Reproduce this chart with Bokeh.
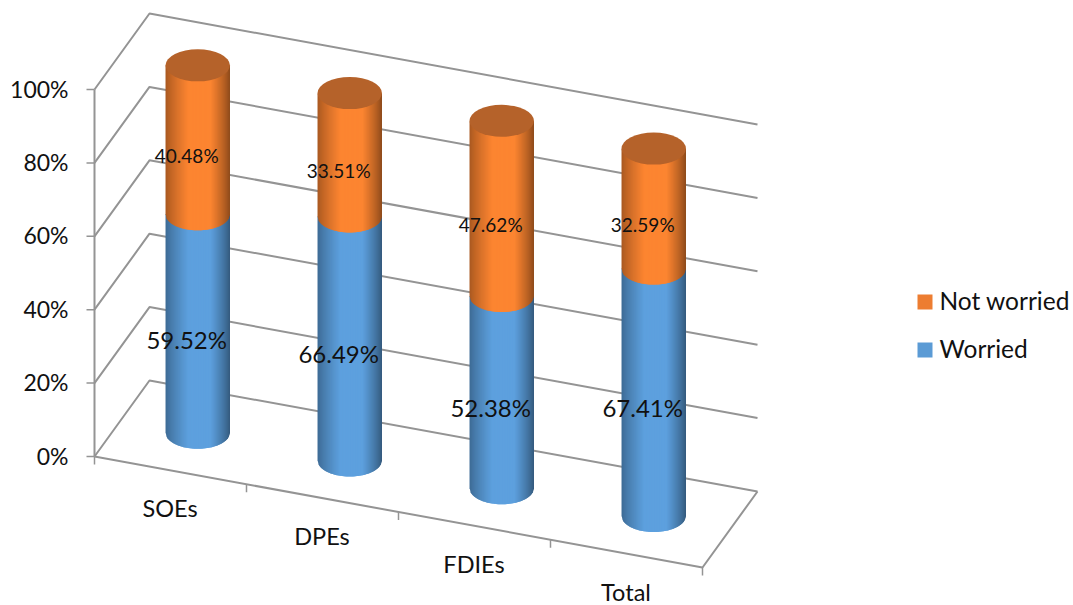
import math
from bokeh.plotting import figure
from bokeh.models import Range1d
from bokeh.core.properties import value
from bokeh.embed import file_html
from bokeh.resources import INLINE

# Chart data
categories = ["SOEs", "DPEs", "FDIEs", "Total"]
worried = [59.52, 66.49, 52.38, 67.41]
not_worried = [40.48, 33.51, 47.62, 32.59]
percent_ticks = [0, 20, 40, 60, 80, 100]
legend_names = ["Not worried", "Worried"]

# Oblique projection of the 3D box onto the page
ORIGIN = (94.0, 456.0)      # front-left floor corner at 0%
SLOT = (152.0, 27.75)       # one category along the front edge
DEPTH = (55.0, -76.0)       # front-to-back offset of the box
PX_PER_PERCENT = 3.67
COL_RX, COL_RY = 32.2, 16.0
COL_DEPTH = 0.495           # columns stand just in front of the floor's centre line
FONT = value("Lato")
GRID = "#949494"
INK = "#111111"


def project(slot, pct, depth=0.0):
    """Box coordinates (category slot, percent, depth 0..1) to page position."""
    x = ORIGIN[0] + slot * SLOT[0] + depth * DEPTH[0]
    y = ORIGIN[1] + slot * SLOT[1] + depth * DEPTH[1] - pct * PX_PER_PERCENT
    return x, y


def shade(rgb, u):
    """Horizontal cylinder lighting, u runs from -1 (left) to 1 (right)."""
    if u < 0:
        k = 0.66 + 0.34 * min(1.0, (u + 1) / 0.7) ** 0.8
    else:
        k = 0.55 + 0.45 * min(1.0, (1 - u) / 0.6) ** 0.8
    return "#%02x%02x%02x" % tuple(int(c * k) for c in rgb)


p = figure(width=1073, height=605, x_range=Range1d(0, 1073), y_range=Range1d(605, 0),
           output_backend="svg", toolbar_location=None, min_border=0,
           outline_line_color=None, background_fill_color="white")
p.axis.visible = False
p.grid.visible = False

n = len(categories)

# Back wall, side wall and value ticks
for pct in percent_ticks:
    x0, y0 = project(0, pct)
    x1, y1 = project(0, pct, 1)
    x2, y2 = project(n, pct, 1)
    p.line([x0, x1, x2], [y0, y1, y2], line_color=GRID, line_width=2)
    p.line([x0 - 8, x0], [y0, y0], line_color=GRID, line_width=1.5)
    p.text([x0 - 26], [y0 - 1], text=[f"{pct}%"], text_font=FONT, text_font_size="23px",
           text_align="right", text_baseline="middle", text_color=INK)

# Vertical value axis and floor outline
ax0, ay0 = project(0, 0)
ax1, ay1 = project(0, 100)
p.line([ax1, ax0], [ay1, ay0], line_color=GRID, line_width=2)
fx, fy = project(n, 0)
bx, by = project(n, 0, 1)
p.line([ax0, fx, bx], [ay0, fy, by], line_color=GRID, line_width=2)

# Category ticks and labels along the front edge
for i in range(n + 1):
    tx, ty = project(i, 0)
    p.line([tx, tx], [ty, ty + 8], line_color=GRID, line_width=1.5)
for i, name in enumerate(categories):
    tx, ty = project(i + 0.5, 0)
    p.text([tx - 0.5], [ty + 38], text=[name], text_font=FONT, text_font_size="23.5px",
           text_align="center", text_baseline="middle", text_color=INK)

BLUE = (93, 160, 222)
ORANGE = (252, 133, 49)
TOP = "#b5622a"
STRIPS = 64


def arc(u):
    return COL_RY * math.sqrt(max(0.0, 1 - u * u))


def draw_segment(cx, y_low, y_high, rgb):
    """Cylinder wall between two heights, curved along its lower edge."""
    xs, ys, cols = [], [], []
    for k in range(STRIPS):
        u0 = -1 + 2 * k / STRIPS
        u1 = -1 + 2 * (k + 1) / STRIPS
        u2 = min(1.0, u1 + 2 / STRIPS)
        xa, xb = cx + u0 * COL_RX, cx + u2 * COL_RX
        xs.append([xa, xb, xb, xa])
        ys.append([y_high, y_high, y_low + arc(u2), y_low + arc(u0)])
        cols.append(shade(rgb, (u0 + u1) / 2))
    p.patches(xs, ys, fill_color=cols, line_color=None)


# Stacked cylinders, one per category
for i in range(n):
    cx, y0 = project(i + 0.5, 0, COL_DEPTH)
    _, y_split = project(i + 0.5, worried[i], COL_DEPTH)
    _, y_top = project(i + 0.5, worried[i] + not_worried[i], COL_DEPTH)
    draw_segment(cx, y0, y_split, BLUE)
    draw_segment(cx, y_split, y_top, ORANGE)
    p.ellipse([cx], [y_top - 0.4], width=2 * COL_RX, height=2 * COL_RY,
              fill_color=TOP, line_color=None)

# Value labels
LABEL_DX, LABEL_DY = -11.0, 15.5
for i in range(n):
    lx, ly = project(i + 0.5, worried[i] / 2, COL_DEPTH)
    p.text([lx + LABEL_DX], [ly + LABEL_DY], text=[f"{worried[i]:.2f}%"], text_font=FONT,
           text_font_size="24px", text_align="center", text_baseline="middle", text_color=INK)
    lx, ly = project(i + 0.5, worried[i] + not_worried[i] / 2, COL_DEPTH)
    p.text([lx + LABEL_DX], [ly + LABEL_DY], text=[f"{not_worried[i]:.2f}%"], text_font=FONT,
           text_font_size="19px", text_align="center", text_baseline="middle", text_color=INK)

# Legend
for name, colour, ly in zip(legend_names, ["#ed7d31", "#5b9bd5"], [301.5, 349.5]):
    p.rect([924.5], [ly], width=15, height=15, fill_color=colour, line_color=None)
    p.text([939], [ly - 2], text=[name], text_font=FONT, text_font_size="24.5px",
           text_align="left", text_baseline="middle", text_color=INK)

open("out.html", "w").write(file_html(p, INLINE))
